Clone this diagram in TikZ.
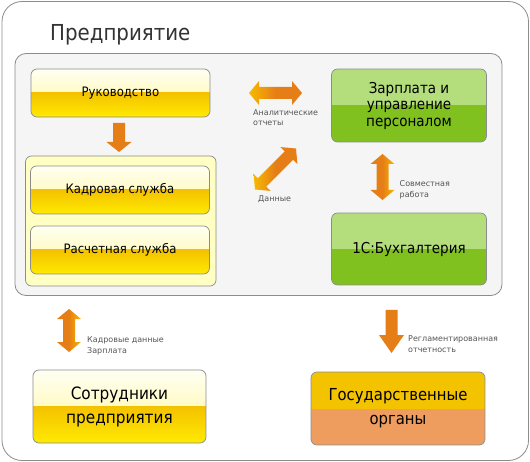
\documentclass[tikz,border=0pt]{standalone}
\usepackage{fontspec}
\setmainfont{DejaVu Sans}
\newfontfamily\condf{DejaVu Sans Condensed}
\usetikzlibrary{shapes.arrows}
\definecolor{bordergray}{HTML}{8C8C8C}
\definecolor{innerfill}{HTML}{F5F5F5}
\definecolor{paleyel}{HTML}{FFFFC4}
\definecolor{ytopA}{HTML}{FFFFF2}
\definecolor{ytopB}{HTML}{FFF79A}
\definecolor{ybotA}{HTML}{F4C200}
\definecolor{ybotB}{HTML}{FFEA00}
\definecolor{gtop}{HTML}{B4DD7C}
\definecolor{gbot}{HTML}{80C120}
\definecolor{otop}{HTML}{F4C300}
\definecolor{obot}{HTML}{EE9D5F}
\definecolor{arrOr}{HTML}{E67E17}
\definecolor{arrYe}{HTML}{F7B900}
\definecolor{txtgray}{HTML}{555555}
\definecolor{titlegray}{HTML}{333333}
\tikzset{
  x=1pt,y=-1pt,
  basebox/.style={draw=bordergray, line width=0.7pt, rounded corners=6pt, inner sep=0pt, align=center, text=black},
  yelbox/.style={basebox, path picture={
      \shade[sharp corners, top color=ytopA, bottom color=ytopB] (path picture bounding box.north west) rectangle (path picture bounding box.east);
      \shade[sharp corners, top color=ybotA, bottom color=ybotB] (path picture bounding box.west) rectangle (path picture bounding box.south east);}},
  grnbox/.style={basebox, path picture={
      \fill[sharp corners, gtop] (path picture bounding box.north west) rectangle (path picture bounding box.east);
      \fill[sharp corners, gbot] (path picture bounding box.west) rectangle (path picture bounding box.south east);}},
  orbox/.style={basebox, path picture={
      \fill[sharp corners, otop] (path picture bounding box.north west) rectangle (path picture bounding box.east);
      \fill[sharp corners, obot] (path picture bounding box.west) rectangle (path picture bounding box.south east);}},
  lbl/.style={text=txtgray, font=\fontsize{8}{10.5}\selectfont, align=left, inner sep=0pt, anchor=north west},
}
\newcommand{\dblarr}[5]{% cx, cy, angle, length, shading opts
  \begin{scope}[shift={(#1,#2)}, rotate=#3]
    \shade[#5] (-#4/2,0) -- (-#4/2+10,-12) -- (-#4/2+10,-6) -- (#4/2-10,-6) -- (#4/2-10,-12) -- (#4/2,0)
      -- (#4/2-10,12) -- (#4/2-10,6) -- (-#4/2+10,6) -- (-#4/2+10,12) -- cycle;
  \end{scope}}
\newcommand{\sglarr}[5]{% cx, cy(top), length, headlen, fill
  \fill[#5] (#1-6,#2) -- (#1+6,#2) -- (#1+6,#2+#3-#4) -- (#1+12.5,#2+#3-#4) -- (#1,#2+#3) -- (#1-12.5,#2+#3-#4) -- (#1-6,#2+#3-#4) -- cycle;}
\begin{document}
\begin{tikzpicture}
\useasboundingbox (0,0) rectangle (530,462);
\fill[white] (0,0) rectangle (530,462);
% outer frame
\draw[bordergray, line width=0.8pt, rounded corners=20pt] (2,1.5) rectangle (528.5,460.5);
\node[anchor=base west, text=titlegray, font=\condf\fontsize{22}{24}\selectfont, inner sep=0pt] (title) at (50,41) {Предприятие};
% inner frame
\draw[bordergray, line width=0.8pt, fill=innerfill, rounded corners=11pt] (15,53.5) rectangle (502,295.5);
% left container
\draw[bordergray, line width=0.7pt, fill=paleyel, rounded corners=6pt] (25.5,156) rectangle (216,286);
% boxes
\node[yelbox, minimum width=179pt, minimum height=48pt, font=\condf\fontsize{13}{15}\selectfont] (ruk) at (120.5,93) {Руководство};
\node[yelbox, minimum width=179pt, minimum height=48pt, font=\condf\fontsize{13}{15}\selectfont] (kadr) at (120,190) {Кадровая служба};
\node[yelbox, minimum width=179pt, minimum height=48pt, font=\condf\fontsize{13}{15}\selectfont] (rasch) at (120,250) {Расчетная служба};
\node[grnbox, minimum width=155pt, minimum height=73pt, font=\condf\fontsize{15}{16.5}\selectfont] (zp) at (409,105.5) {Зарплата и\\управление\\персоналом};
\node[grnbox, minimum width=155pt, minimum height=72pt, font=\condf\fontsize{15}{17}\selectfont] (buh) at (409,249) {1С:Бухгалтерия};
\node[yelbox, minimum width=173pt, minimum height=73pt, font=\condf\fontsize{17}{24}\selectfont] (sotr) at (119.5,406.5) {Сотрудники\\предприятия};
\node[orbox, minimum width=174pt, minimum height=73pt, font=\condf\fontsize{16.5}{24}\selectfont] (gos) at (398,408.5) {Государственные\\органы};
% arrows
\sglarr{119}{123}{29}{10}{arrOr}
\dblarr{275.5}{93}{0}{53}{left color=arrYe, right color=arrOr, middle color=arrOr}
\dblarr{275.5}{169}{45}{58}{left color=arrYe, right color=arrOr, middle color=arrOr}
\dblarr{382.5}{177}{90}{46}{left color=arrOr, right color=arrYe, middle color=arrOr}
\dblarr{69}{330.5}{90}{43}{left color=arrOr, right color=arrYe, middle color=arrOr}
\sglarr{391.5}{310}{43}{18}{arrOr}
% labels
\node[lbl] (l1) at (253,109) {Аналитические\\отчеты};
\node[lbl] (l2) at (258,195.5) {Данные};
\node[lbl] (l3) at (399.5,180.5) {Совместная\\работа};
\node[lbl] (l4) at (87,336.5) {Кадровые данные\\Зарплата};
\node[lbl] (l5) at (408,335.5) {Регламентированная\\отчетность};
\end{tikzpicture}
\end{document}
